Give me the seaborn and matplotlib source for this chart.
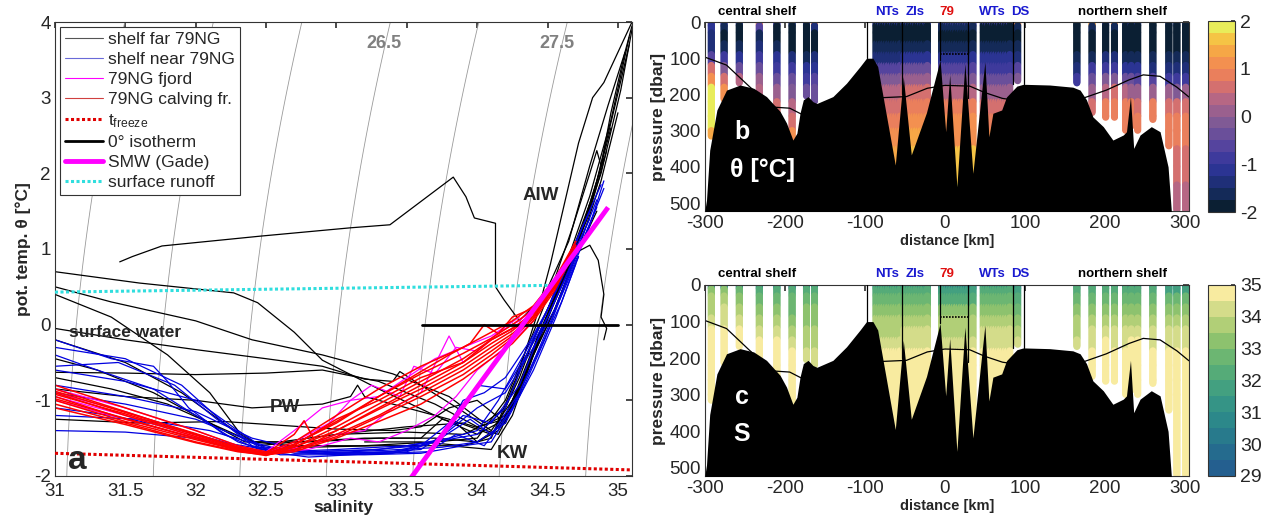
import numpy as np
import pandas as pd
import matplotlib
matplotlib.use("Agg")
import matplotlib.pyplot as plt
import seaborn as sns
from matplotlib.colors import ListedColormap, Normalize
from matplotlib.lines import Line2D
import matplotlib.cm as cm

# ---------------------------------------------------------------- data: T-S profiles
far_S = [
    [31.46,31.55,31.76,32.46,33.10,33.38,33.83,33.92,33.98,34.13,34.13,34.19,34.30,34.48,34.65,34.80,34.93,35.05,35.10],
    [31.00,31.60,32.27,32.44,32.70,32.90,33.30,33.70,34.00,34.15,34.30,34.42,34.55,34.70,34.85,34.98,35.08],
    [31.00,31.40,32.00,32.40,32.90,33.40,33.80,34.05,34.20,34.35,34.50,34.65,34.80,34.95,35.08],
    [31.00,31.50,32.00,32.50,32.90,33.20,33.40,33.45,33.60,33.90,34.10,34.25,34.40,34.55,34.70,34.88,35.02,35.10],
    [31.00,31.50,32.00,32.50,32.90,33.30,33.70,34.00,34.20,34.35,34.50,34.62,34.75,34.90],
    [31.00,31.40,31.80,32.10,32.30,32.45,32.70,33.20,33.70,34.00,34.15,34.30,34.45,34.60,34.80],
    [31.00,31.50,31.90,32.20,32.40,32.80,33.30,33.80,34.10,34.25,34.40,34.55,34.72,34.88,35.00],
    [31.00,31.40,31.80,32.10,32.35,32.60,33.00,33.50,33.90,34.15,34.30,34.42,34.58,34.78,34.95],
    [31.00,31.60,32.20,32.60,33.00,33.40,33.60,33.80,34.00,34.20,34.35,34.50,34.65],
    [31.00,31.50,32.00,32.40,32.90,33.10,33.15,33.20,33.50,33.80,34.10,34.25,34.40,34.55,34.70,34.85],
    [33.00,33.50,33.90,34.20,34.40,34.55,34.70,34.80,34.86,34.90,34.88,34.92,34.90],
    [33.20,33.60,33.90,34.10,34.30,34.42,34.52,34.62,34.72,34.82,34.90,35.00,35.10],
    [32.60,33.20,33.70,34.00,34.20,34.40,34.55,34.68,34.80,34.85,34.88,34.95,35.05],
    [31.00,31.30,31.70,32.10,32.40,32.80,33.30,33.60,33.75,33.85,34.00,34.20,34.38,34.50,34.66,34.80,34.92],
]
far_T = [
    [0.83,0.90,1.04,1.17,1.28,1.32,1.95,1.69,1.41,1.34,0.50,0.33,0.05,0.40,1.10,2.10,2.90,3.60,3.95],
    [0.70,0.55,0.42,0.29,-0.10,-0.47,-0.85,-1.20,-1.45,-1.30,-0.70,-0.10,0.40,1.00,1.90,2.90,3.70],
    [0.50,0.30,0.05,-0.20,-0.40,-0.65,-0.95,-1.30,-1.10,-0.40,0.20,0.90,1.70,2.70,3.80],
    [-0.05,-0.20,-0.33,-0.45,-0.55,-0.72,-0.75,-0.62,-0.80,-1.15,-1.40,-1.00,-0.30,0.30,1.00,2.00,3.10,3.90],
    [-0.63,-0.64,-0.66,-0.64,-0.60,-0.75,-1.05,-1.35,-1.25,-0.60,0.10,0.70,1.30,2.20],
    [0.40,0.10,-0.40,-0.90,-1.40,-1.60,-1.55,-1.50,-1.50,-1.55,-1.40,-0.80,-0.10,0.60,1.60],
    [-0.20,-0.50,-0.90,-1.30,-1.55,-1.62,-1.60,-1.60,-1.65,-1.20,-0.40,0.20,1.00,1.90,2.80],
    [-0.70,-0.85,-1.05,-1.30,-1.55,-1.55,-1.45,-1.35,-1.30,-1.45,-0.90,-0.20,0.50,1.40,2.60],
    [-1.25,-1.30,-1.28,-1.33,-1.38,-1.40,-1.35,-1.10,-1.00,-1.30,-0.60,0.10,0.80],
    [-0.85,-0.95,-1.00,-1.10,-1.05,-0.95,-0.80,-0.95,-1.10,-1.25,-1.45,-1.10,-0.40,0.20,0.90,1.50],
    [-1.45,-1.42,-1.45,-1.20,-0.40,0.30,0.95,1.05,0.85,0.40,0.10,-0.05,-0.20],
    [-1.55,-1.55,-1.60,-1.50,-0.60,0.10,0.80,1.60,2.40,3.00,3.20,3.60,4.00],
    [-1.60,-1.60,-1.55,-1.50,-1.00,-0.10,0.60,1.30,2.00,2.30,2.10,2.80,3.60],
    [-0.45,-0.60,-0.90,-1.30,-1.55,-1.55,-1.50,-1.50,-1.25,-1.30,-1.55,-1.30,-0.45,0.10,0.80,1.50,2.30],
]
near_S = [
    [31.00,31.50,31.90,32.20,32.40,32.60,33.00,33.50,33.80,34.00,34.15,34.30,34.45,34.60,34.75,34.88],
    [31.00,31.40,31.70,31.80,31.95,32.20,32.45,32.80,33.30,33.70,34.00,34.20,34.35,34.50,34.65,34.80],
    [31.00,31.50,32.00,32.30,32.50,32.90,33.40,33.70,33.90,34.10,34.30,34.45,34.60,34.75,34.90],
    [31.00,31.50,32.00,32.40,32.70,33.20,33.60,33.80,34.00,34.20,34.40,34.55,34.70,34.85],
    [31.00,31.60,32.10,32.50,33.00,33.50,33.75,33.90,34.05,34.20,34.38,34.50,34.62,34.80],
    [31.00,31.50,32.00,32.50,33.00,33.40,33.70,33.95,34.10,34.30,34.45,34.60,34.72],
    [31.00,31.30,31.70,32.00,32.30,32.60,33.20,33.60,33.90,34.10,34.30,34.48,34.62,34.78,34.90],
    [31.00,31.40,31.80,32.10,32.40,32.80,33.30,33.65,33.85,34.05,34.25,34.42,34.58,34.72],
    [31.00,31.50,32.00,32.40,32.80,33.20,33.60,33.80,34.00,34.20,34.35,34.50,34.68,34.85],
    [31.00,31.45,31.85,32.15,32.45,32.85,33.35,33.75,34.00,34.20,34.40,34.56,34.70],
]
near_T = [
    [-0.30,-0.45,-0.80,-1.30,-1.60,-1.68,-1.65,-1.60,-1.50,-1.40,-1.00,-0.50,0.00,0.60,1.30,1.85],
    [-0.20,-0.45,-0.55,-0.75,-1.10,-1.45,-1.65,-1.68,-1.65,-1.55,-1.45,-1.10,-0.40,0.20,0.90,1.50],
    [-0.60,-0.75,-1.00,-1.40,-1.65,-1.70,-1.68,-1.55,-1.20,-1.30,-0.80,-0.10,0.50,1.10,1.80],
    [-0.90,-1.05,-1.25,-1.55,-1.70,-1.70,-1.65,-1.40,-1.10,-0.90,-0.30,0.20,0.90,1.55],
    [-1.20,-1.25,-1.40,-1.62,-1.70,-1.68,-1.50,-1.00,-0.90,-0.70,-0.20,0.20,0.70,1.40],
    [-1.40,-1.42,-1.50,-1.65,-1.72,-1.70,-1.55,-1.25,-1.45,-0.90,-0.30,0.30,0.90],
    [-0.40,-0.60,-0.85,-1.20,-1.55,-1.72,-1.72,-1.70,-1.60,-1.55,-0.95,-0.20,0.50,1.20,1.90],
    [-1.10,-1.20,-1.35,-1.50,-1.65,-1.75,-1.70,-1.68,-1.45,-1.60,-1.10,-0.40,0.30,0.90],
    [-0.80,-0.95,-1.15,-1.50,-1.68,-1.66,-1.60,-1.30,-0.80,-0.85,-0.40,0.10,0.85,1.65],
    [-0.55,-0.50,-0.80,-1.25,-1.62,-1.70,-1.66,-1.62,-1.55,-1.30,-0.60,0.10,0.80],
]
fjord_S = [
    [31.00,31.50,32.00,32.30,32.50,32.70,32.95,33.10,33.25,33.45,33.55,33.70,33.85,34.00,34.15,34.30,34.45],
    [31.00,31.50,32.00,32.30,32.50,32.80,33.00,33.20,33.40,33.60,33.80,33.90,34.10,34.30,34.45],
    [31.00,31.50,32.00,32.30,32.50,32.70,32.90,33.10,33.30,33.50,33.70,33.90,34.10,34.30],
    [31.00,31.50,32.00,32.50,32.80,33.10,33.30,33.50,33.70,33.85,34.00,34.20,34.40],
]
fjord_T = [
    [-0.90,-1.15,-1.45,-1.62,-1.70,-1.55,-1.30,-1.00,-0.80,-0.95,-0.55,-0.65,-0.30,-0.35,-0.10,0.05,0.30],
    [-1.00,-1.25,-1.50,-1.65,-1.70,-1.60,-1.45,-1.40,-1.10,-0.90,-0.15,-0.50,-0.20,0.00,0.30],
    [-0.85,-1.10,-1.40,-1.60,-1.68,-1.40,-1.10,-1.00,-0.95,-0.70,-0.45,-0.30,-0.15,0.10],
    [-0.95,-1.20,-1.48,-1.70,-1.65,-1.50,-1.55,-1.40,-1.20,-0.95,-0.60,-0.30,0.05],
]
calv_S = [
    [31.00,31.50,32.00,32.30,32.50,32.70,33.00,33.30,33.60,33.90,34.10,34.25,34.40,34.55,34.70],
    [31.00,31.50,32.00,32.30,32.50,32.70,33.00,33.30,33.60,33.90,34.10,34.25,34.40,34.55,34.70],
    [31.00,31.50,32.00,32.30,32.50,32.70,33.00,33.30,33.60,33.90,34.10,34.25,34.40,34.55,34.70],
    [31.00,31.50,32.00,32.30,32.50,32.70,33.00,33.30,33.60,33.90,34.10,34.25,34.40,34.55,34.70],
    [31.00,31.50,32.00,32.30,32.50,32.70,33.00,33.30,33.60,33.90,34.10,34.25,34.40,34.55,34.70],
    [31.00,31.50,32.00,32.30,32.50,32.70,33.00,33.30,33.60,33.90,34.10,34.25,34.40,34.55,34.70],
    [31.00,31.50,32.00,32.30,32.50,32.70,33.00,33.30,33.60,33.90,34.10,34.25,34.40,34.55,34.70],
    [31.00,31.50,32.00,32.30,32.50,32.70,33.00,33.30,33.60,33.90,34.10,34.25,34.40,34.55,34.70],
    [31.00,31.50,32.00,32.30,32.50,32.70,32.77,32.85,33.00,33.30,33.60,33.90,34.10,34.25,34.40,34.55],
    [31.00,31.50,32.00,32.30,32.50,32.70,33.00,33.30,33.60,33.80,33.95,34.05,34.15,34.25,34.40,34.55],
]
calv_T = [
    [-0.80,-1.10,-1.40,-1.60,-1.68,-1.55,-1.20,-0.85,-0.55,-0.30,-0.10,0.05,0.25,0.60,1.10],
    [-0.90,-1.20,-1.48,-1.64,-1.70,-1.62,-1.35,-1.05,-0.75,-0.45,-0.20,-0.05,0.15,0.55,1.05],
    [-0.95,-1.25,-1.50,-1.65,-1.72,-1.65,-1.45,-1.20,-0.90,-0.60,-0.35,-0.15,0.10,0.50,1.00],
    [-1.00,-1.28,-1.52,-1.66,-1.72,-1.68,-1.50,-1.28,-1.05,-0.72,-0.45,-0.25,0.05,0.45,1.00],
    [-1.05,-1.30,-1.55,-1.67,-1.73,-1.62,-1.40,-1.12,-0.85,-0.55,-0.30,-0.12,0.12,0.50,1.05],
    [-1.10,-1.32,-1.56,-1.68,-1.72,-1.58,-1.30,-0.95,-0.65,-0.38,-0.18,0.00,0.20,0.55,1.10],
    [-0.85,-1.15,-1.45,-1.62,-1.70,-1.60,-1.25,-1.00,-0.70,-0.50,-0.25,-0.08,0.15,0.52,1.02],
    [-0.98,-1.24,-1.50,-1.66,-1.71,-1.66,-1.48,-1.22,-0.95,-0.66,-0.40,-0.18,0.08,0.48,1.00],
    [-0.92,-1.18,-1.46,-1.63,-1.70,-1.45,-1.27,-1.55,-1.40,-1.10,-0.80,-0.50,-0.20,-0.05,0.15,0.55],
    [-0.88,-1.16,-1.44,-1.62,-1.70,-1.58,-1.28,-0.95,-0.62,-0.40,-0.25,0.00,-0.12,0.10,0.22,0.58],
]
freeze_S, freeze_T = [31.0, 35.1], [-1.70, -1.92]
runoff_S, runoff_T = [31.0, 34.54], [0.43, 0.52]
iso0_S, iso0_T = [33.61, 35.0], [0.0, 0.0]
smw_S, smw_T = [33.52, 34.93], [-2.05, 1.55]
sigma_levels = [25.0, 25.5, 26.0, 26.5, 27.0, 27.5, 28.0]

# ---------------------------------------------------------------- data: sections
z_edges = [0, 10, 30, 60, 90, 120, 150, 180, 220, 260, 300, 350, 400, 450, 520]
central_x = [-292, -276, -257, -232, -210, -191, -173, -163]
central_zmax = [318, 215, 170, 200, 257, 326, 205, 220]
central_T = [
    [-0.8,-1.2,-1.5,-1.3,-0.6,0.6,1.2,1.8,1.8,1.8,1.3],
    [-1.0,-1.7,-1.8,-1.6,-1.0,-0.2,0.5,1.0,1.1],
    [-1.3,-1.8,-1.8,-1.7,-1.2,-0.5,0.3],
    [0.9,-0.6,-1.6,-1.5,-1.0,-0.5,0.0,0.4,0.5],
    [-1.0,-1.8,-1.8,-1.7,-1.2,-0.8,-0.3,0.2,0.5,0.6],
    [-1.3,-1.8,-1.8,-1.8,-1.5,-1.0,-0.5,-0.1,0.3,0.6,1.0],
    [-1.5,-1.8,-1.8,-1.8,-1.6,-1.2,-0.8,-0.4,0.0],
    [0.8,-1.5,-1.8,-1.8,-1.5,-1.1,-0.7,-0.3,0.1],
]
central_Sal = [
    [30.8,33.2,33.6,33.9,34.3,34.6,34.8,34.85,34.9,34.9,34.9],
    [30.8,33.0,33.5,34.0,34.4,34.7,34.8,34.85,34.9],
    [30.5,32.5,33.2,33.8,34.2,34.5,34.7],
    [30.5,32.3,32.8,33.3,33.9,34.3,34.6,34.8,34.85],
    [30.5,32.3,32.8,33.4,33.9,34.3,34.6,34.8,34.85,34.9],
    [30.3,32.0,32.5,32.9,33.3,33.8,34.2,34.5,34.7,34.85,34.9],
    [30.5,32.2,32.6,33.0,33.3,33.6,33.9,34.2,34.5],
    [30.5,32.2,32.6,33.0,33.3,33.6,33.9,34.2,34.5],
]
nts_x = [-86, -83, -80, -77, -74, -71, -68, -65, -62, -59, -56]
zis_x = [-51, -48, -45, -42, -39, -36, -33, -30, -27, -24, -22]
f79_x = [-4, -1, 2, 5, 8, 11, 14, 17, 20, 23, 26, 29, 32, 35]
wts_x = [48, 51, 54, 57, 60, 63, 66, 69, 72, 75, 78, 81]
nts_T = [-1.1,-1.8,-1.8,-1.7,-1.3,-0.7,-0.2,0.3,0.7,0.9,1.1,1.4,1.7,1.8]
zis_T = [-1.2,-1.8,-1.8,-1.6,-1.1,-0.5,0.0,0.5,0.8,1.0,1.3,1.6,1.7,1.8]
f79_T = [-0.8,-1.7,-1.8,-1.6,-1.2,-0.6,-0.1,0.4,0.8,1.0,1.2,1.5,1.7,1.8]
wts_T = [-1.0,-1.8,-1.8,-1.7,-1.2,-0.8,-0.3,0.2,0.6,0.9,1.0,1.2,1.4,1.5]
nts_Sal = [31.0,32.0,32.5,33.0,33.5,33.9,34.2,34.5,34.7,34.8,34.85,34.9,34.9,34.9]
zis_Sal = [31.2,32.1,32.6,33.1,33.6,34.0,34.3,34.5,34.7,34.8,34.85,34.9,34.9,34.9]
f79_Sal = [30.0,31.5,32.4,33.0,33.5,33.9,34.2,34.5,34.7,34.8,34.85,34.9,34.9,34.9]
wts_Sal = [31.0,32.2,32.6,33.1,33.6,34.0,34.3,34.5,34.7,34.8,34.85,34.9,34.9,34.9]
ds_x, ds_zmax = [91], [165]
ds_T = [[1.2,-1.6,-1.8,-1.7,-1.3,-0.6,-0.2]]
ds_Sal = [[30.3,31.5,32.0,32.6,33.2,33.8,34.1]]
north_x = [165, 184, 201, 212, 226, 233, 241, 260, 280, 290, 301]
north_zmax = [170, 252, 266, 266, 300, 290, 300, 270, 345, 520, 520]
north_T = [
    [-1.8,-1.8,-1.8,-1.8,-1.7,-1.3,-0.8],
    [1.3,-1.6,-1.8,-1.8,-1.6,-1.0,-0.4,0.2,0.7,0.8],
    [-1.5,-1.8,-1.8,-1.8,-1.4,-0.8,-0.2,0.4,0.8,0.9],
    [1.0,-1.6,-1.8,-1.8,-1.5,-0.9,-0.2,0.5,0.9,0.9],
    [-1.5,-1.8,-1.8,-1.8,-1.6,-1.1,-0.4,0.3,0.8,0.9,0.9],
    [-1.2,-1.8,-1.8,-1.8,-1.6,-1.2,-0.5,0.2,0.8,0.9,0.9],
    [-1.4,-1.8,-1.8,-1.8,-1.7,-1.2,-0.6,0.2,0.7,0.9,0.9],
    [-1.8,-1.8,-1.8,-1.8,-1.7,-1.3,-0.6,0.2,0.8,0.9],
    [-1.6,-1.8,-1.8,-1.8,-1.7,-1.4,-0.8,0.0,0.7,0.9,0.9,0.8],
    [-1.7,-1.8,-1.8,-1.8,-1.7,-1.4,-0.9,-0.1,0.6,0.8,0.8,0.7,0.5,0.4],
    [-1.6,-1.8,-1.8,-1.8,-1.7,-1.4,-0.8,0.0,0.6,0.8,0.8,0.7,0.5,0.4],
]
north_Sal = [
    [31.8,32.4,32.8,33.2,33.5,33.8,34.0],
    [31.5,32.2,32.7,33.2,33.6,34.0,34.4,34.7,34.85,34.9],
    [31.6,32.3,32.8,33.3,33.7,34.1,34.5,34.7,34.85,34.9],
    [31.4,32.2,32.7,33.2,33.6,34.0,34.4,34.7,34.85,34.9],
    [31.0,32.0,32.5,33.0,33.5,34.0,34.4,34.7,34.85,34.9,34.9],
    [31.2,32.1,32.6,33.1,33.6,34.1,34.5,34.7,34.85,34.9,34.9],
    [31.3,32.2,32.7,33.2,33.7,34.1,34.5,34.7,34.85,34.9,34.9],
    [31.2,32.1,32.6,33.1,33.6,34.0,34.4,34.7,34.85,34.9],
    [31.0,31.9,32.5,33.0,33.5,34.0,34.4,34.7,34.85,34.9,34.9,34.9],
    [31.0,31.9,32.5,33.0,33.5,34.0,34.4,34.7,34.85,34.9,34.9,34.9,34.9,34.9],
    [31.0,31.9,32.5,33.0,33.5,34.0,34.4,34.7,34.85,34.9,34.9,34.9,34.9,34.9],
]
bathy_x = [-300, -298, -294, -285, -273, -256, -239, -223, -206, -198, -190, -185, -181, -177, -171, -165,
           -160, -140, -123, -106, -98, -90, -84, -62, -52, -42, -23, -6, 1, 6, 15, 25, 35, 50, 55, 60,
           71, 77, 90, 98, 131, 160, 169, 177, 185, 198, 210, 223, 227, 232, 236, 244, 258, 269, 279, 283]
bathy_z = [520, 492, 354, 243, 188, 174, 183, 206, 247, 279, 326, 307, 251, 215, 206, 220,
           225, 206, 169, 123, 100, 100, 123, 395, 151, 367, 250, 105, 303, 146, 455, 115, 418, 110, 317, 252,
           243, 207, 177, 172, 174, 180, 188, 215, 262, 289, 326, 312, 303, 206, 349, 312, 289, 303, 400, 520]
iso_x = [-300, -273, -244, -215, -194, -177, -150, -120, -79, -48, -22, 0, 31, 50, 72, 100, 140, 172,
         202, 230, 248, 269, 290, 305]
iso_z = [97, 119, 179, 235, 238, 257, 260, 240, 209, 206, 183, 175, 177, 195, 211, 220, 220, 211,
         188, 160, 146, 150, 180, 207]
vline_x = [-97, -54, -6, 29, 85, 99]
vline_z = [100, 200, 105, 210, 172, 172]
ice_x, ice_z = [-6, 29], [88, 88]
sec_labels = ["central shelf", "NTs", "ZIs", "79", "WTs", "DS", "northern shelf"]
sec_label_x = [-235, -72, -37, 2, 59, 94, 222]
sec_label_c = ["black", "#1a1ad0", "#1a1ad0", "#e01010", "#1a1ad0", "#1a1ad0", "black"]

T_colors = ["#0b1f33", "#142a58", "#1f2f78", "#2b3493", "#3e3a9c", "#55449e", "#6a4f9a", "#805a95",
            "#9a608e", "#b66784", "#d4706f", "#ea7f5c", "#f39050", "#f6a746", "#f5c445", "#e8ec5a"]
S_colors = ["#245f8f", "#256b8e", "#287a8c", "#2c888a", "#359486", "#43a080", "#55ab78", "#6cb672",
            "#8dc26e", "#b1cf77", "#d4dc8a", "#f8eba0"]

# ---------------------------------------------------------------- style
sns.set_theme(style="white")
plt.rcParams["font.family"] = ["Liberation Sans", "DejaVu Sans"]
plt.rcParams["axes.edgecolor"] = "#333333"
plt.rcParams["axes.linewidth"] = 0.8
plt.rcParams["axes.unicode_minus"] = False

fig = plt.figure(figsize=(12.61, 5.19), dpi=100)
axL = fig.add_axes([0.0436, 0.0829, 0.4576, 0.8747])
axT = fig.add_axes([0.559, 0.5934, 0.3838, 0.3642])
axS = fig.add_axes([0.559, 0.0829, 0.3838, 0.368])
caxT = fig.add_axes([0.958, 0.5915, 0.0214, 0.368])
caxS = fig.add_axes([0.958, 0.0829, 0.0214, 0.368])


def sigma0(S, T):
    rw = (999.842594 + 6.793952e-2 * T - 9.095290e-3 * T**2 + 1.001685e-4 * T**3
          - 1.120083e-6 * T**4 + 6.536332e-9 * T**5)
    r = (rw + S * (0.824493 - 4.0899e-3 * T + 7.6438e-5 * T**2 - 8.2467e-7 * T**3 + 5.3875e-9 * T**4)
         + S**1.5 * (-5.72466e-3 + 1.0227e-4 * T - 1.6546e-6 * T**2) + 4.8314e-4 * S**2)
    return r - 1000.0


# ---------------------------------------------------------------- panel a
Sg, Tg = np.meshgrid(np.linspace(30.8, 35.3, 200), np.linspace(-2.3, 4.3, 200))
axL.contour(Sg, Tg, sigma0(Sg, Tg), levels=sigma_levels, colors="#9a9a9a", linewidths=0.6, zorder=1)


def profiles_df(Slist, Tlist):
    rows = []
    for k, (s, t) in enumerate(zip(Slist, Tlist)):
        for a, b in zip(s, t):
            rows.append((k, a, b))
    return pd.DataFrame(rows, columns=["pid", "S", "T"])


for Sl, Tl, col, lw in [(far_S, far_T, "black", 0.9), (near_S, near_T, "#0000e0", 0.9),
                        (fjord_S, fjord_T, "#ff00ff", 0.9), (calv_S, calv_T, "#ff0000", 1.1)]:
    sns.lineplot(data=profiles_df(Sl, Tl), x="S", y="T", units="pid", estimator=None, sort=False,
                 color=col, lw=lw, ax=axL, legend=False, zorder=2)

axL.plot(freeze_S, freeze_T, color="#e00000", lw=2.2, ls=(0, (1, 0.8)), zorder=3)
axL.plot(runoff_S, runoff_T, color="#30dede", lw=2.2, ls=(0, (1, 0.8)), zorder=3)
axL.plot(iso0_S, iso0_T, color="black", lw=2.0, zorder=4)
axL.plot(smw_S, smw_T, color="#ff00ff", lw=3.5, zorder=5, solid_capstyle="butt")

axL.set_xlim(31, 35.1)
axL.set_ylim(-2, 4)
axL.set_xticks([31, 31.5, 32, 32.5, 33, 33.5, 34, 34.5, 35])
axL.set_xticklabels(["31", "31.5", "32", "32.5", "33", "33.5", "34", "34.5", "35"])
axL.set_yticks([-2, -1, 0, 1, 2, 3, 4])
axL.set_yticklabels(["-2", "-1", "0", "1", "2", "3", "4"])
axL.tick_params(direction="in", top=True, right=True, labelsize=13.5, length=4, pad=3, color="#333333")
axL.tick_params(axis="x", pad=5)
axL.set_xlabel("salinity", fontsize=12.5, fontweight="bold", labelpad=0)
axL.set_ylabel("pot. temp. θ [°C]", fontsize=12.5, fontweight="bold", labelpad=2)

axL.text(33.34, 3.72, "26.5", color="#808080", fontsize=13, fontweight="bold", ha="center", va="center")
axL.text(34.57, 3.72, "27.5", color="#808080", fontsize=13, fontweight="bold", ha="center", va="center")
axL.text(31.1, -0.1, "surface water", fontsize=12.5, fontweight="bold", ha="left", va="center")
axL.text(32.63, -1.1, "PW", fontsize=13.5, fontweight="bold", ha="center", va="center")
axL.text(34.25, -1.7, "KW", fontsize=13.5, fontweight="bold", ha="center", va="center")
axL.text(34.45, 1.71, "AIW", fontsize=13.5, fontweight="bold", ha="center", va="center")
axL.text(31.16, -1.8, "a", fontsize=24, fontweight="bold", ha="center", va="center")

handles = [
    Line2D([], [], color="#555555", lw=0.8),
    Line2D([], [], color="#6a6ad8", lw=0.8),
    Line2D([], [], color="#ff00ff", lw=0.8),
    Line2D([], [], color="#d04040", lw=0.8),
    Line2D([], [], color="#e00000", lw=2.2, ls=(0, (1, 0.8))),
    Line2D([], [], color="black", lw=2.0),
    Line2D([], [], color="#ff00ff", lw=3.5),
    Line2D([], [], color="#30dede", lw=2.2, ls=(0, (1, 0.8))),
]
labels = ["shelf far 79NG", "shelf near 79NG", "79NG fjord", "79NG calving fr.",
          r"$\mathregular{t_{freeze}}$", "0° isotherm", "SMW (Gade)", "surface runoff"]
leg = axL.legend(handles, labels, loc="upper left", bbox_to_anchor=(0.009, 0.989), fontsize=12.5,
                 frameon=True, fancybox=False, edgecolor="#333333", framealpha=1, handlelength=2.15,
                 handletextpad=0.3, labelspacing=0.28, borderpad=0.3, borderaxespad=0)
leg.get_frame().set_linewidth(0.8)

# ---------------------------------------------------------------- sections
cmapT = ListedColormap(T_colors)
cmapS = ListedColormap(S_colors)
normT = Normalize(-2, 2)
normS = Normalize(29, 35)


def section_df(xs, zmaxs, vals_list):
    rows = []
    for x, zm, vals in zip(xs, zmaxs, vals_list):
        for i, v in enumerate(vals):
            z0 = z_edges[i]
            z1 = min(z_edges[i + 1], zm)
            if z0 >= zm or np.isnan(v):
                continue
            for z in np.arange(z0, z1, 3.0):
                rows.append((x, z, v))
    return rows


def build(var):
    rows = []
    if var == "T":
        rows += section_df(central_x, central_zmax, central_T)
        rows += section_df(nts_x, [520] * len(nts_x), [nts_T] * len(nts_x))
        rows += section_df(zis_x, [520] * len(zis_x), [zis_T] * len(zis_x))
        rows += section_df(f79_x, [520] * len(f79_x), [f79_T] * len(f79_x))
        rows += section_df(wts_x, [520] * len(wts_x), [wts_T] * len(wts_x))
        rows += section_df(ds_x, ds_zmax, ds_T)
        rows += section_df(north_x, north_zmax, north_T)
    else:
        rows += section_df(central_x, central_zmax, central_Sal)
        rows += section_df(nts_x, [520] * len(nts_x), [nts_Sal] * len(nts_x))
        rows += section_df(zis_x, [520] * len(zis_x), [zis_Sal] * len(zis_x))
        rows += section_df(f79_x, [520] * len(f79_x), [f79_Sal] * len(f79_x))
        rows += section_df(wts_x, [520] * len(wts_x), [wts_Sal] * len(wts_x))
        rows += section_df(ds_x, ds_zmax, ds_Sal)
        rows += section_df(north_x, north_zmax, north_Sal)
    return pd.DataFrame(rows, columns=["dist", "p", "v"])


for ax, var, cmap, norm, lab1, lab2, cax, cticks in [
        (axT, "T", cmapT, normT, "b", "θ [°C]", caxT, [-2, -1, 0, 1, 2]),
        (axS, "S", cmapS, normS, "c", "S", caxS, [29, 30, 31, 32, 33, 34, 35])]:
    df = build(var)
    sns.scatterplot(data=df, x="dist", y="p", hue="v", palette=cmap, hue_norm=norm, s=26,
                    linewidth=0, marker="o", legend=False, ax=ax, zorder=1)
    ax.plot(iso_x, iso_z, color="black", lw=0.9, zorder=2)
    ax.fill_between(bathy_x, bathy_z, 600, color="black", lw=0, zorder=3)
    for vx, vz in zip(vline_x, vline_z):
        ax.plot([vx, vx], [0, vz], color="black", lw=0.9, zorder=4)
    ax.plot(ice_x, ice_z, color="black", lw=1.2, ls=(0, (1, 0.8)), zorder=4)
    ax.set_xlim(-300, 305)
    ax.set_ylim(522, 0)
    ax.set_xticks([-300, -200, -100, 0, 100, 200, 300])
    ax.set_xticklabels(["-300", "-200", "-100", "0", "100", "200", "300"])
    ax.set_yticks([0, 100, 200, 300, 400, 500])
    ax.set_yticklabels(["0", "100", "200", "300", "400", "500"])
    ax.tick_params(direction="in", top=True, right=True, labelsize=13.5, length=4, pad=3, color="#333333")
    ax.set_xlabel("distance [km]", fontsize=10.5, fontweight="bold", labelpad=1)
    ax.set_ylabel("pressure [dbar]", fontsize=12.5, fontweight="bold", labelpad=2)
    ax.text(-254, 305, lab1, color="white", fontsize=18, fontweight="bold", ha="center", va="center", zorder=6)
    ax.text(-228 if var == "T" else -254, 408, lab2, color="white", fontsize=18, fontweight="bold",
            ha="center", va="center", zorder=6)
    for t, x, c in zip(sec_labels, sec_label_x, sec_label_c):
        ax.text(x, 1.055, t, transform=ax.get_xaxis_transform(), color=c, fontsize=9.5,
                fontweight="bold", ha="center", va="center")
    sm = cm.ScalarMappable(norm=norm, cmap=cmap)
    cb = fig.colorbar(sm, cax=cax)
    cb.set_ticks(cticks)
    cb.set_ticklabels([str(t) for t in cticks])
    cb.ax.tick_params(labelsize=14, direction="in", length=3, color="#333333")
    cb.outline.set_linewidth(0.8)

fig.savefig("out.png", dpi=100)
